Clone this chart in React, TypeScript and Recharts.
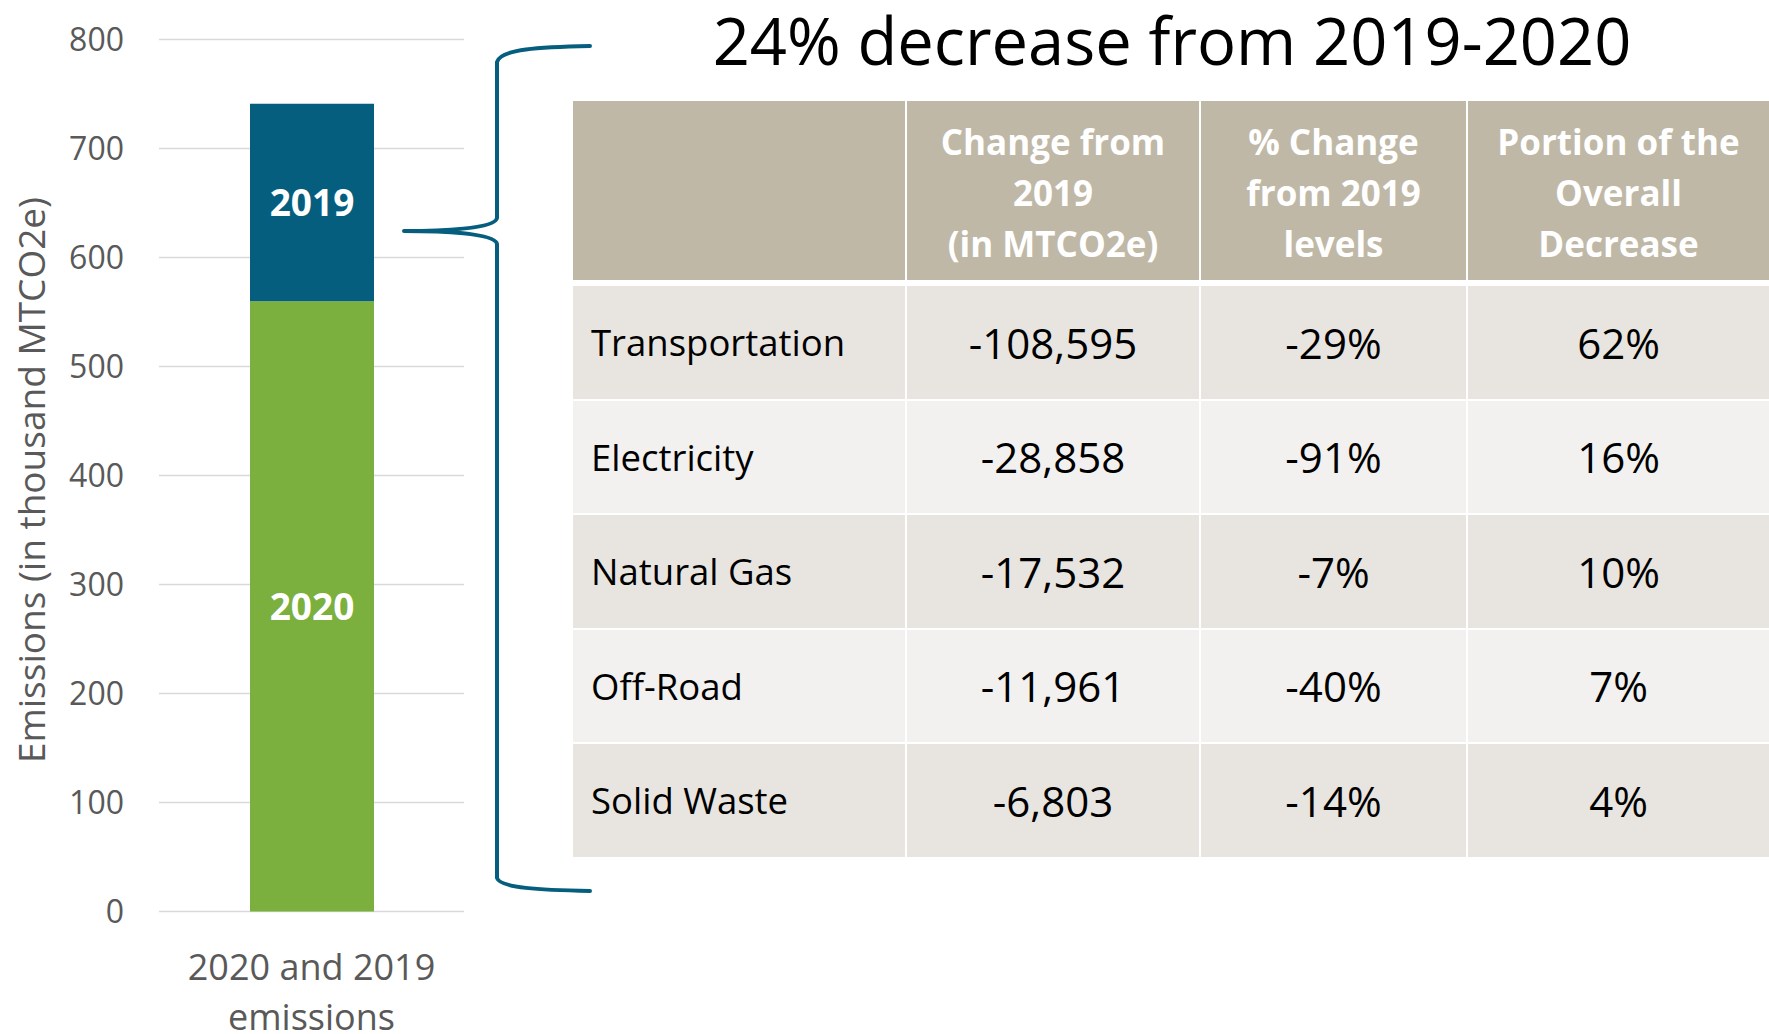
import { Bar, BarChart, CartesianGrid, LabelList, XAxis, YAxis } from "recharts";

const FONT = "'Open Sans', 'Noto Sans', sans-serif";

// left chart
const categories = ["2020 and 2019 emissions"];
const seriesNames = ["2020", "2019"];
const emissions2020 = [560];
const diff2019 = [181]; // part of 2019 above the 2020 level (total ~741)
const yTicks = [0, 100, 200, 300, 400, 500, 600, 700, 800];
const yTitle = "Emissions (in thousand MTCO2e)";

// right table
const title = "24% decrease from 2019-2020";
const headers = [
  [] as string[],
  ["Change from", "2019", "(in MTCO2e)"],
  ["% Change", "from 2019", "levels"],
  ["Portion of the", "Overall", "Decrease"],
];
const sectors = ["Transportation", "Electricity", "Natural Gas", "Off-Road", "Solid Waste"];
const changeFrom2019 = ["-108,595", "-28,858", "-17,532", "-11,961", "-6,803"];
const pctChange = ["-29%", "-91%", "-7%", "-40%", "-14%"];
const portionOfDecrease = ["62%", "16%", "10%", "7%", "4%"];

const data = categories.map((name, i) => ({
  name,
  y2020: emissions2020[i],
  y2019: diff2019[i],
}));

const BLUE = "#065E7F";
const GREEN = "#7BAF3E";
const GREY = "#595959";

const XTick = (props: any) => {
  const { x, y, payload } = props;
  const words = String(payload.value).split(" ");
  const lines = [words.slice(0, 3).join(" "), words.slice(3).join(" ")];
  return (
    <text x={x} y={y} textAnchor="middle" fill={GREY} fontSize={36} fontFamily={FONT}>
      {lines.map((l, i) => (
        <tspan key={i} x={x} dy={i === 0 ? 68 : 50}>
          {l}
        </tspan>
      ))}
    </text>
  );
};

const YTitle = () => (
  <text
    transform="translate(30,480) rotate(-90)"
    textAnchor="middle"
    dominantBaseline="central"
    fill={GREY}
    fontSize={37}
    fontFamily={FONT}
  >
    {yTitle}
  </text>
);

const colX = [573, 907, 1201, 1468];
const colW = [332, 292, 265, 301];
const rowTop = 286;
const rowStep = 114.5;
const rowH = 112.5;
const rowFill = ["#E8E5E0", "#F2F1EF"];

const Table = () => {
  const body = sectors.map((s, i) => [s, changeFrom2019[i], pctChange[i], portionOfDecrease[i]]);
  return (
    <div style={{ position: "absolute", left: 0, top: 0, fontFamily: FONT }}>
      {headers.map((h, c) => (
        <div
          key={"h" + c}
          style={{
            position: "absolute",
            left: colX[c],
            top: 101,
            width: colW[c],
            height: 179,
            paddingTop: 4,
            boxSizing: "border-box",
            background: "#C0B8A6",
            color: "#fff",
            fontWeight: 700,
            fontSize: 35,
            lineHeight: "51px",
            display: "flex",
            flexDirection: "column",
            alignItems: "center",
            justifyContent: "center",
            textAlign: "center",
          }}
        >
          {h.map((l, k) => (
            <div key={k} style={{ whiteSpace: "nowrap" }}>
              {l}
            </div>
          ))}
        </div>
      ))}
      {body.map((row, r) =>
        row.map((cell, c) => (
          <div
            key={r + "-" + c}
            style={{
              position: "absolute",
              left: colX[c],
              top: rowTop + r * rowStep,
              width: colW[c],
              height: rowH,
              background: rowFill[r % 2],
              color: "#000",
              fontSize: c === 0 ? 36.5 : 42,
              display: "flex",
              alignItems: "center",
              justifyContent: c === 0 ? "flex-start" : "center",
              paddingLeft: c === 0 ? 18 : 0,
              boxSizing: "border-box",
              whiteSpace: "nowrap",
            }}
          >
            {cell}
          </div>
        ))
      )}
    </div>
  );
};

const Overlay = () => (
  <svg
    width={1769}
    height={1034}
    style={{ position: "absolute", left: 0, top: 0, pointerEvents: "none" }}
  >
    <text x={1172} y={65} textAnchor="middle" fill="#000" fontSize={65} fontFamily={FONT}>
      {title}
    </text>
    <path
      d="M 590 46 C 540 47 500 49 497 62 L 497 218 C 495 229 440 231 404 231 C 440 231 495 233 497 244 L 497 878 C 500 888 540 890 590 891"
      fill="none"
      stroke={BLUE}
      strokeWidth={4}
      strokeLinecap="round"
      strokeLinejoin="round"
    />
  </svg>
);

const App = () => {
  return (
    <div style={{ position: "absolute", left: 0, top: 0, width: 1769, height: 1034, background: "#fff" }}>
      <div style={{ position: "absolute", left: 0, top: 0 }}>
        <BarChart
          width={480}
          height={1034}
          data={data}
          margin={{ top: 39.5, right: 16, bottom: 0, left: 0 }}
        >
          <CartesianGrid vertical={false} stroke="#D9D9D9" strokeWidth={1.5} />
          <XAxis
            dataKey="name"
            height={122.4}
            axisLine={false}
            tickLine={false}
            tickSize={0}
            tickMargin={0}
            tick={<XTick />}
            interval={0}
          />
          <YAxis
            width={159}
            domain={[0, 800]}
            ticks={yTicks}
            axisLine={false}
            tickLine={false}
            tickSize={0}
            tickMargin={35}
            tick={{ fill: GREY, fontSize: 32, fontFamily: FONT }}
            label={() => <YTitle />}
          />
          <Bar dataKey="y2020" stackId="a" fill={GREEN} barSize={124} isAnimationActive={false}>
            <LabelList
              dataKey="y2020"
              position="center"
              formatter={() => seriesNames[0]}
              fill="#fff"
              fontSize={37}
              fontWeight={700}
              fontFamily={FONT}
            />
          </Bar>
          <Bar dataKey="y2019" stackId="a" fill={BLUE} barSize={124} isAnimationActive={false}>
            <LabelList
              dataKey="y2019"
              position="center"
              formatter={() => seriesNames[1]}
              fill="#fff"
              fontSize={37}
              fontWeight={700}
              fontFamily={FONT}
            />
          </Bar>
        </BarChart>
      </div>
      <Table />
      <Overlay />
    </div>
  );
};

export default App;
